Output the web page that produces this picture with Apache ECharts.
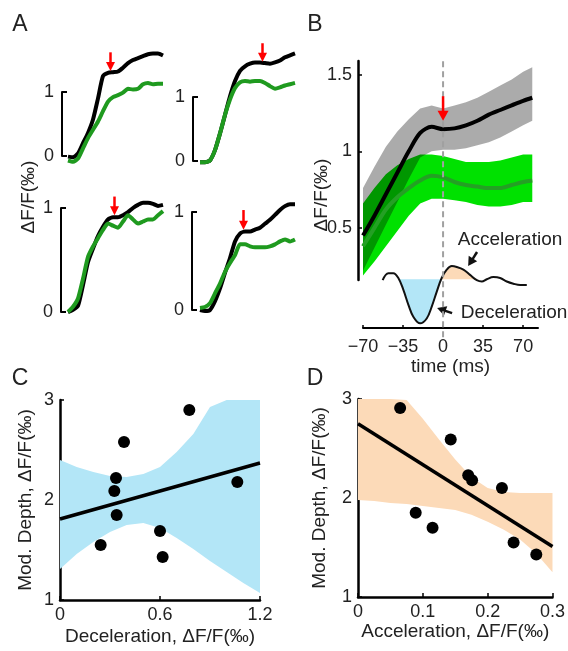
<!DOCTYPE html>
<html>
<head>
<meta charset="utf-8">
<script src="https://cdn.jsdelivr.net/npm/echarts@6/dist/echarts.min.js"></script>
<style>
  html, body { margin: 0; padding: 0; background: #fff; }
  #chart { width: 568px; height: 651px; }
</style>
</head>
<body>
<div id="chart"></div>
<script>
// ---- panel A: four example traces (frame index, dF/F)
const aTime = [0, 1, 2, 3, 4, 5, 6, 7, 8, 9, 10, 11, 12, 13, 14, 15, 16, 17, 18, 19];
const aBlack1 = [-0.01, -0.02, 0.04, 0.2, 0.36, 0.57, 0.9, 1.25, 1.3, 1.31, 1.32, 1.38, 1.45, 1.5, 1.53, 1.56, 1.59, 1.6, 1.6, 1.57];
const aGreen1 = [-0.07, -0.09, -0.04, 0.12, 0.28, 0.41, 0.54, 0.7, 0.85, 0.92, 0.95, 0.99, 1.05, 1.04, 1.05, 1.12, 1.14, 1.12, 1.13, 1.13];
const aBlack2 = [-0.02, -0.02, 0.01, 0.17, 0.43, 0.72, 1.01, 1.25, 1.41, 1.48, 1.52, 1.54, 1.54, 1.53, 1.52, 1.54, 1.57, 1.62, 1.65, 1.68];
const aGreen2 = [-0.02, -0.02, 0.01, 0.17, 0.43, 0.72, 0.96, 1.14, 1.23, 1.25, 1.24, 1.25, 1.25, 1.22, 1.17, 1.13, 1.15, 1.18, 1.2, 1.22];
const aBlack3 = [0, 0.02, 0.06, 0.26, 0.48, 0.61, 0.73, 0.82, 0.89, 0.91, 0.91, 0.93, 0.96, 1.0, 1.03, 1.05, 1.05, 1.04, 1.02, 1.03];
const aGreen3 = [0, 0.05, 0.13, 0.32, 0.53, 0.63, 0.71, 0.79, 0.85, 0.83, 0.81, 0.87, 0.93, 0.89, 0.85, 0.87, 0.89, 0.89, 0.93, 0.97];
const aBlack4 = [0, -0.01, 0, 0.09, 0.22, 0.38, 0.53, 0.7, 0.78, 0.8, 0.8, 0.82, 0.84, 0.88, 0.92, 0.97, 1.02, 1.06, 1.08, 1.08];
const aGreen4 = [0.02, 0.03, 0.07, 0.17, 0.27, 0.39, 0.48, 0.56, 0.67, 0.67, 0.65, 0.64, 0.64, 0.64, 0.65, 0.67, 0.7, 0.72, 0.7, 0.72];
// red arrows: [frame, from, frame, to]
const aArrows = [[8.5, 1.62, 8.5, 1.33], [12.5, 1.84, 12.5, 1.55], [9.3, 1.11, 9.3, 0.93], [8.7, 1.02, 8.7, 0.82]];

// ---- panel B: averages (time in ms)
const bTime = [-70, -60, -50, -40, -30, -20, -10, 0, 10, 20, 30, 40, 50, 60, 70, 78];
const bBlack = [0.45, 0.58, 0.72, 0.86, 1.0, 1.12, 1.16, 1.145, 1.15, 1.17, 1.2, 1.24, 1.27, 1.3, 1.33, 1.35];
const bBlackHi = [0.76, 0.9, 1.03, 1.13, 1.21, 1.28, 1.3, 1.28, 1.3, 1.32, 1.35, 1.39, 1.43, 1.47, 1.52, 1.55];
const bBlackLo = [0.22, 0.37, 0.52, 0.67, 0.82, 0.96, 1.0, 1.01, 1.01, 1.02, 1.04, 1.06, 1.09, 1.13, 1.17, 1.2];
const bGreen = [0.38, 0.5, 0.62, 0.7, 0.76, 0.81, 0.84, 0.83, 0.8, 0.78, 0.77, 0.76, 0.76, 0.78, 0.8, 0.81];
const bGreenHi = [0.66, 0.76, 0.85, 0.91, 0.95, 0.98, 0.98, 0.97, 0.95, 0.93, 0.93, 0.93, 0.94, 0.96, 0.98, 0.98];
const bGreenLo = [0.19, 0.28, 0.38, 0.48, 0.58, 0.66, 0.69, 0.69, 0.68, 0.67, 0.65, 0.64, 0.64, 0.65, 0.67, 0.67];
const bTicks = [0.5, 1, 1.5];
const timeTicks = [-70, -35, 0, 35, 70];
const bRedArrow = [[0, 1.36, 0, 1.2]];
// whisker velocity sketch
const wTime = [-52.8, -47.8, -43.5, -39.1, -34.7, -30.3, -26, -20.1, -14.3, -9.9, -5.5, -1.2, 3.2, 7.6, 12, 17.8, 23.6, 29.5, 33.9, 38.2, 44, 49.9, 55.7, 61.5, 67.4, 73.2];
const wVel = [-0.02, 0.14, 0.14, 0.03, -0.24, -0.58, -0.85, -1.0, -0.89, -0.62, -0.28, 0.03, 0.22, 0.3, 0.28, 0.22, 0.1, -0.02, -0.05, 0, 0.05, 0.03, -0.05, -0.1, -0.13, -0.13];
const wArrows = [[29.7, 0.62, 21.9, 0.3], [7.9, -0.77, -5.2, -0.65]];
// t = 0 reference line, in the sketch's units (reaches the top of panel B)
const wZeroLine = [[0, 4.96, 0, -1.3]];

// ---- panel C: deceleration vs modulation depth
const cX = [0.776, 0.384, 0.336, 0.326, 0.34, 0.244, 0.6, 0.616, 1.064];
const cY = [2.9, 2.58, 2.22, 2.09, 1.85, 1.55, 1.69, 1.43, 2.18];
const cFit = [[0, 1.81], [1.2, 2.37]];
const cBandX = [0, 0.1, 0.2, 0.3, 0.4, 0.5, 0.6, 0.7, 0.8, 0.9, 1.0, 1.1, 1.2];
const cBandHi = [2.4, 2.33, 2.28, 2.24, 2.23, 2.26, 2.33, 2.48, 2.66, 2.93, 3, 3, 3];
const cBandLo = [1.31, 1.46, 1.58, 1.68, 1.75, 1.77, 1.72, 1.62, 1.51, 1.39, 1.28, 1.17, 1.07];

// ---- panel D: acceleration vs modulation depth
const dX = [0.065, 0.143, 0.17, 0.176, 0.222, 0.089, 0.115, 0.24, 0.275];
const dY = [2.91, 2.59, 2.23, 2.18, 2.1, 1.85, 1.7, 1.55, 1.43];
const dFit = [[0, 2.75], [0.3, 1.51]];
const dBandX = [0, 0.025, 0.05, 0.075, 0.1, 0.125, 0.15, 0.175, 0.2, 0.225, 0.25, 0.275, 0.3];
const dBandHi = [3, 3, 3, 2.99, 2.8, 2.59, 2.39, 2.21, 2.1, 2.06, 2.05, 2.05, 2.05];
const dBandLo = [1.98, 1.97, 1.95, 1.94, 1.92, 1.9, 1.88, 1.83, 1.76, 1.68, 1.58, 1.44, 1.25];

const FONT = '"Liberation Sans", Arial, sans-serif';
const TXT = '#222';
const BLUE = '#b3e6f7';
const PEACH = '#fcdab8';
const TICK_FS = 18;
const NAME_FS = 19;

const chart = echarts.init(document.getElementById('chart'));

function pairs(xs, ys) {
  return xs.map((x, i) => [x, ys[i]]);
}

// filled band drawn as polygon through the axes
function band(idx, xs, hi, lo, color) {
  return {
    type: 'custom',
    xAxisIndex: idx,
    yAxisIndex: idx,
    silent: true,
    clip: true,
    data: [[xs[0], hi[0]]],
    renderItem: function (params, api) {
      const top = xs.map((x, i) => api.coord([x, hi[i]]));
      const bot = xs.map((x, i) => api.coord([x, lo[i]])).reverse();
      return { type: 'polygon', shape: { points: top.concat(bot) }, style: { fill: color } };
    }
  };
}

// arrows (or plain segments when headL is 0) in data coordinates
function arrows(idx, list, color, width, headW, headL, dash, z) {
  return {
    type: 'custom',
    xAxisIndex: idx,
    yAxisIndex: idx,
    silent: true,
    clip: false,
    z: z || 5,
    encode: { x: [0, 2], y: [1, 3] },
    data: list,
    renderItem: function (params, api) {
      const p1 = api.coord([api.value(0), api.value(1)]);
      const p2 = api.coord([api.value(2), api.value(3)]);
      const dx = p2[0] - p1[0], dy = p2[1] - p1[1];
      const len = Math.sqrt(dx * dx + dy * dy) || 1;
      const ux = dx / len, uy = dy / len;
      const bx = p2[0] - ux * headL, by = p2[1] - uy * headL;
      const children = [{
        type: 'line',
        shape: { x1: p1[0], y1: p1[1], x2: bx + ux * 1, y2: by + uy * 1 },
        style: { stroke: color, fill: null, lineWidth: width, lineDash: dash || null, opacity: 1 }
      }];
      if (headL > 0) {
        children.push({
          type: 'polygon',
          shape: { points: [[p2[0], p2[1]], [bx - uy * headW / 2, by + ux * headW / 2], [bx + uy * headW / 2, by - ux * headW / 2]] },
          style: { fill: color, stroke: null }
        });
      }
      return { type: 'group', children: children };
    }
  };
}

const aGrids = [
  { left: 62, top: 92, width: 101, height: 64, min: -1.2 },
  { left: 193, top: 97, width: 102, height: 64, min: -1.4 },
  { left: 61, top: 208, width: 102, height: 104, min: -1.4 },
  { left: 192, top: 212, width: 103, height: 98, min: -1.6 }
];
const aBlacks = [aBlack1, aBlack2, aBlack3, aBlack4];
const aGreens = [aGreen1, aGreen2, aGreen3, aGreen4];

const grids = [];
const xAxes = [];
const yAxes = [];
const series = [];

aGrids.forEach((g, i) => {
  grids.push({ left: g.left, top: g.top, width: g.width, height: g.height });
  xAxes.push({ gridIndex: i, type: 'value', min: g.min, max: 19, show: false });
  yAxes.push({
    gridIndex: i, type: 'value', min: 0, max: 1, interval: 1,
    axisLine: { show: true, onZero: false, lineStyle: { color: '#000', width: 2 } },
    axisTick: { show: true, inside: true, length: 5, lineStyle: { color: '#000', width: 2 } },
    axisLabel: { fontSize: TICK_FS, color: TXT, fontFamily: FONT, margin: 8 },
    splitLine: { show: false }
  });
  series.push({
    type: 'line', xAxisIndex: i, yAxisIndex: i, clip: false, smooth: 0.2,
    showSymbol: false, data: pairs(aTime, aBlacks[i]),
    lineStyle: { color: '#000', width: 4 }
  });
  series.push({
    type: 'line', xAxisIndex: i, yAxisIndex: i, clip: false, smooth: 0.2,
    showSymbol: false, data: pairs(aTime, aGreens[i]),
    lineStyle: { color: '#1f9a1f', width: 4 }
  });
  series.push(arrows(i, [aArrows[i]], '#ff0000', 2.5, 9, 9));
});

// panel B main (index 4)
grids.push({ left: 363, top: 61, width: 175, height: 219 });
xAxes.push({ gridIndex: 4, type: 'value', min: -70, max: 83, show: false });
yAxes.push({
  gridIndex: 4, type: 'value', min: 0.16, max: 1.59, offset: 5,
  axisLine: { show: true, onZero: false, lineStyle: { color: '#000', width: 2.5 } },
  axisTick: { show: true, inside: true, length: 4, customValues: bTicks, lineStyle: { color: '#000', width: 1.5 } },
  axisLabel: { fontSize: TICK_FS, color: TXT, fontFamily: FONT, margin: 6, customValues: bTicks },
  splitLine: { show: false }
});
series.push(band(4, bTime, bGreenHi, bGreenLo, '#00e100'));
series.push(band(4, bTime, bBlackHi, bBlackLo, 'rgba(0,0,0,0.33)'));
series.push({
  type: 'line', xAxisIndex: 4, yAxisIndex: 4, smooth: 0.3, showSymbol: false,
  data: pairs(bTime, bGreen), lineStyle: { color: '#24a024', width: 4 }
});
series.push({
  type: 'line', xAxisIndex: 4, yAxisIndex: 4, smooth: 0.3, showSymbol: false,
  data: pairs(bTime, bBlack), lineStyle: { color: '#000', width: 4 }
});
series.push(arrows(4, bRedArrow, '#ff0000', 2.5, 11, 10, null, 7));

// panel B velocity sketch + time axis (index 5)
grids.push({ left: 363, top: 245, width: 175, height: 83 });
xAxes.push({
  gridIndex: 5, type: 'value', min: -70, max: 83,
  name: 'time (ms)', nameLocation: 'middle', nameGap: 29,
  nameTextStyle: { fontSize: NAME_FS, color: TXT, fontFamily: FONT },
  axisLine: { show: true, onZero: false, lineStyle: { color: '#000', width: 2 } },
  axisTick: { show: true, inside: true, length: 3, customValues: timeTicks, lineStyle: { color: '#000', width: 1.5 } },
  axisLabel: {
    fontSize: TICK_FS, color: TXT, fontFamily: FONT, margin: 10, customValues: timeTicks,
    formatter: v => String(v).replace('-', '\u2212')
  },
  splitLine: { show: false }
});
yAxes.push({ gridIndex: 5, type: 'value', min: -1.107, max: 0.78, show: false });
const decel = pairs(wTime, wVel).slice(3, 12).map(p => [p[0], Math.min(p[1], 0)]);
const accel = pairs(wTime, wVel).slice(11, 18).map(p => [p[0], Math.max(p[1], 0)]);
series.push({
  type: 'line', xAxisIndex: 5, yAxisIndex: 5, smooth: 0.4, showSymbol: false,
  data: decel, lineStyle: { width: 0 }, areaStyle: { color: BLUE, opacity: 1 }
});
series.push({
  type: 'line', xAxisIndex: 5, yAxisIndex: 5, smooth: 0.4, showSymbol: false,
  data: accel, lineStyle: { width: 0 }, areaStyle: { color: PEACH, opacity: 1 }
});
series.push({
  type: 'line', xAxisIndex: 5, yAxisIndex: 5, smooth: 0.4, showSymbol: false,
  data: pairs(wTime, wVel), lineStyle: { color: '#111', width: 2 }
});
series.push(arrows(5, wArrows, '#111', 2.5, 10, 9));
series.push(arrows(5, wZeroLine, '#a0a0a0', 2, 0, 0, [6, 4], 6));

// panels C (6) and D (7)
function scatterAxes(idx, xMax, xInt, xName, yGap, xGap, xMargin) {
  xAxes.push({
    gridIndex: idx, type: 'value', min: 0, max: xMax, interval: xInt,
    name: xName, nameLocation: 'middle', nameGap: xGap,
    nameTextStyle: { fontSize: NAME_FS, color: TXT, fontFamily: FONT },
    axisLine: { show: true, onZero: false, lineStyle: { color: '#000', width: 2.5 } },
    axisTick: { show: true, inside: true, length: 4, lineStyle: { color: '#000', width: 1.5 } },
    axisLabel: { fontSize: TICK_FS, color: TXT, fontFamily: FONT, margin: xMargin },
    splitLine: { show: false }
  });
  yAxes.push({
    gridIndex: idx, type: 'value', min: 1, max: 3, interval: 1,
    name: 'Mod. Depth, \u0394F/F(\u2030)', nameLocation: 'middle', nameGap: yGap,
    nameTextStyle: { fontSize: NAME_FS, color: TXT, fontFamily: FONT },
    axisLine: { show: true, onZero: false, lineStyle: { color: '#000', width: 2.5 } },
    axisTick: { show: true, inside: true, length: 4, lineStyle: { color: '#000', width: 1.5 } },
    axisLabel: { fontSize: TICK_FS, color: TXT, fontFamily: FONT, margin: 6 },
    splitLine: { show: false }
  });
}

grids.push({ left: 60, top: 400, width: 200, height: 200 });
scatterAxes(6, 1.2, 0.6, 'Deceleration, \u0394F/F(\u2030)', 25, 27, 6);
series.push(band(6, cBandX, cBandHi, cBandLo, BLUE));
series.push({
  type: 'line', xAxisIndex: 6, yAxisIndex: 6, showSymbol: false,
  data: cFit, lineStyle: { color: '#000', width: 3.5 }
});
series.push({
  type: 'scatter', xAxisIndex: 6, yAxisIndex: 6, symbolSize: 12,
  data: pairs(cX, cY), itemStyle: { color: '#000', opacity: 1 }
});

grids.push({ left: 358, top: 399, width: 199, height: 198 });
scatterAxes(7, 0.3, 0.1, 'Acceleration, \u0394F/F(\u2030)', 29, 20, 6);
series.push(band(7, dBandX, dBandHi, dBandLo, PEACH));
series.push({
  type: 'line', xAxisIndex: 7, yAxisIndex: 7, showSymbol: false,
  data: dFit, lineStyle: { color: '#000', width: 3.5 }
});
series.push({
  type: 'scatter', xAxisIndex: 7, yAxisIndex: 7, symbolSize: 12,
  data: pairs(dX, dY), itemStyle: { color: '#000', opacity: 1 }
});

function label(text, x, y, size, opts) {
  return Object.assign({
    type: 'text', x: x, y: y, silent: true,
    style: { text: text, fontSize: size, fontFamily: FONT, fill: TXT, textAlign: 'center', textVerticalAlign: 'middle' }
  }, opts || {});
}

const option = {
  animation: false,
  backgroundColor: '#fff',
  grid: grids,
  xAxis: xAxes,
  yAxis: yAxes,
  series: series,
  graphic: [
    label('A', 20, 25, 23),
    label('B', 315, 25, 23),
    label('C', 20, 379, 23),
    label('D', 315, 379, 23),
    label('\u0394F/F(\u2030)', 29, 197, NAME_FS, { rotation: Math.PI / 2 }),
    label('\u0394F/F(\u2030)', 322, 195, NAME_FS, { rotation: Math.PI / 2 }),
    label('Acceleration', 510, 240, NAME_FS),
    label('Deceleration', 514, 313, NAME_FS)
  ]
};

chart.setOption(option);
</script>
</body>
</html>
